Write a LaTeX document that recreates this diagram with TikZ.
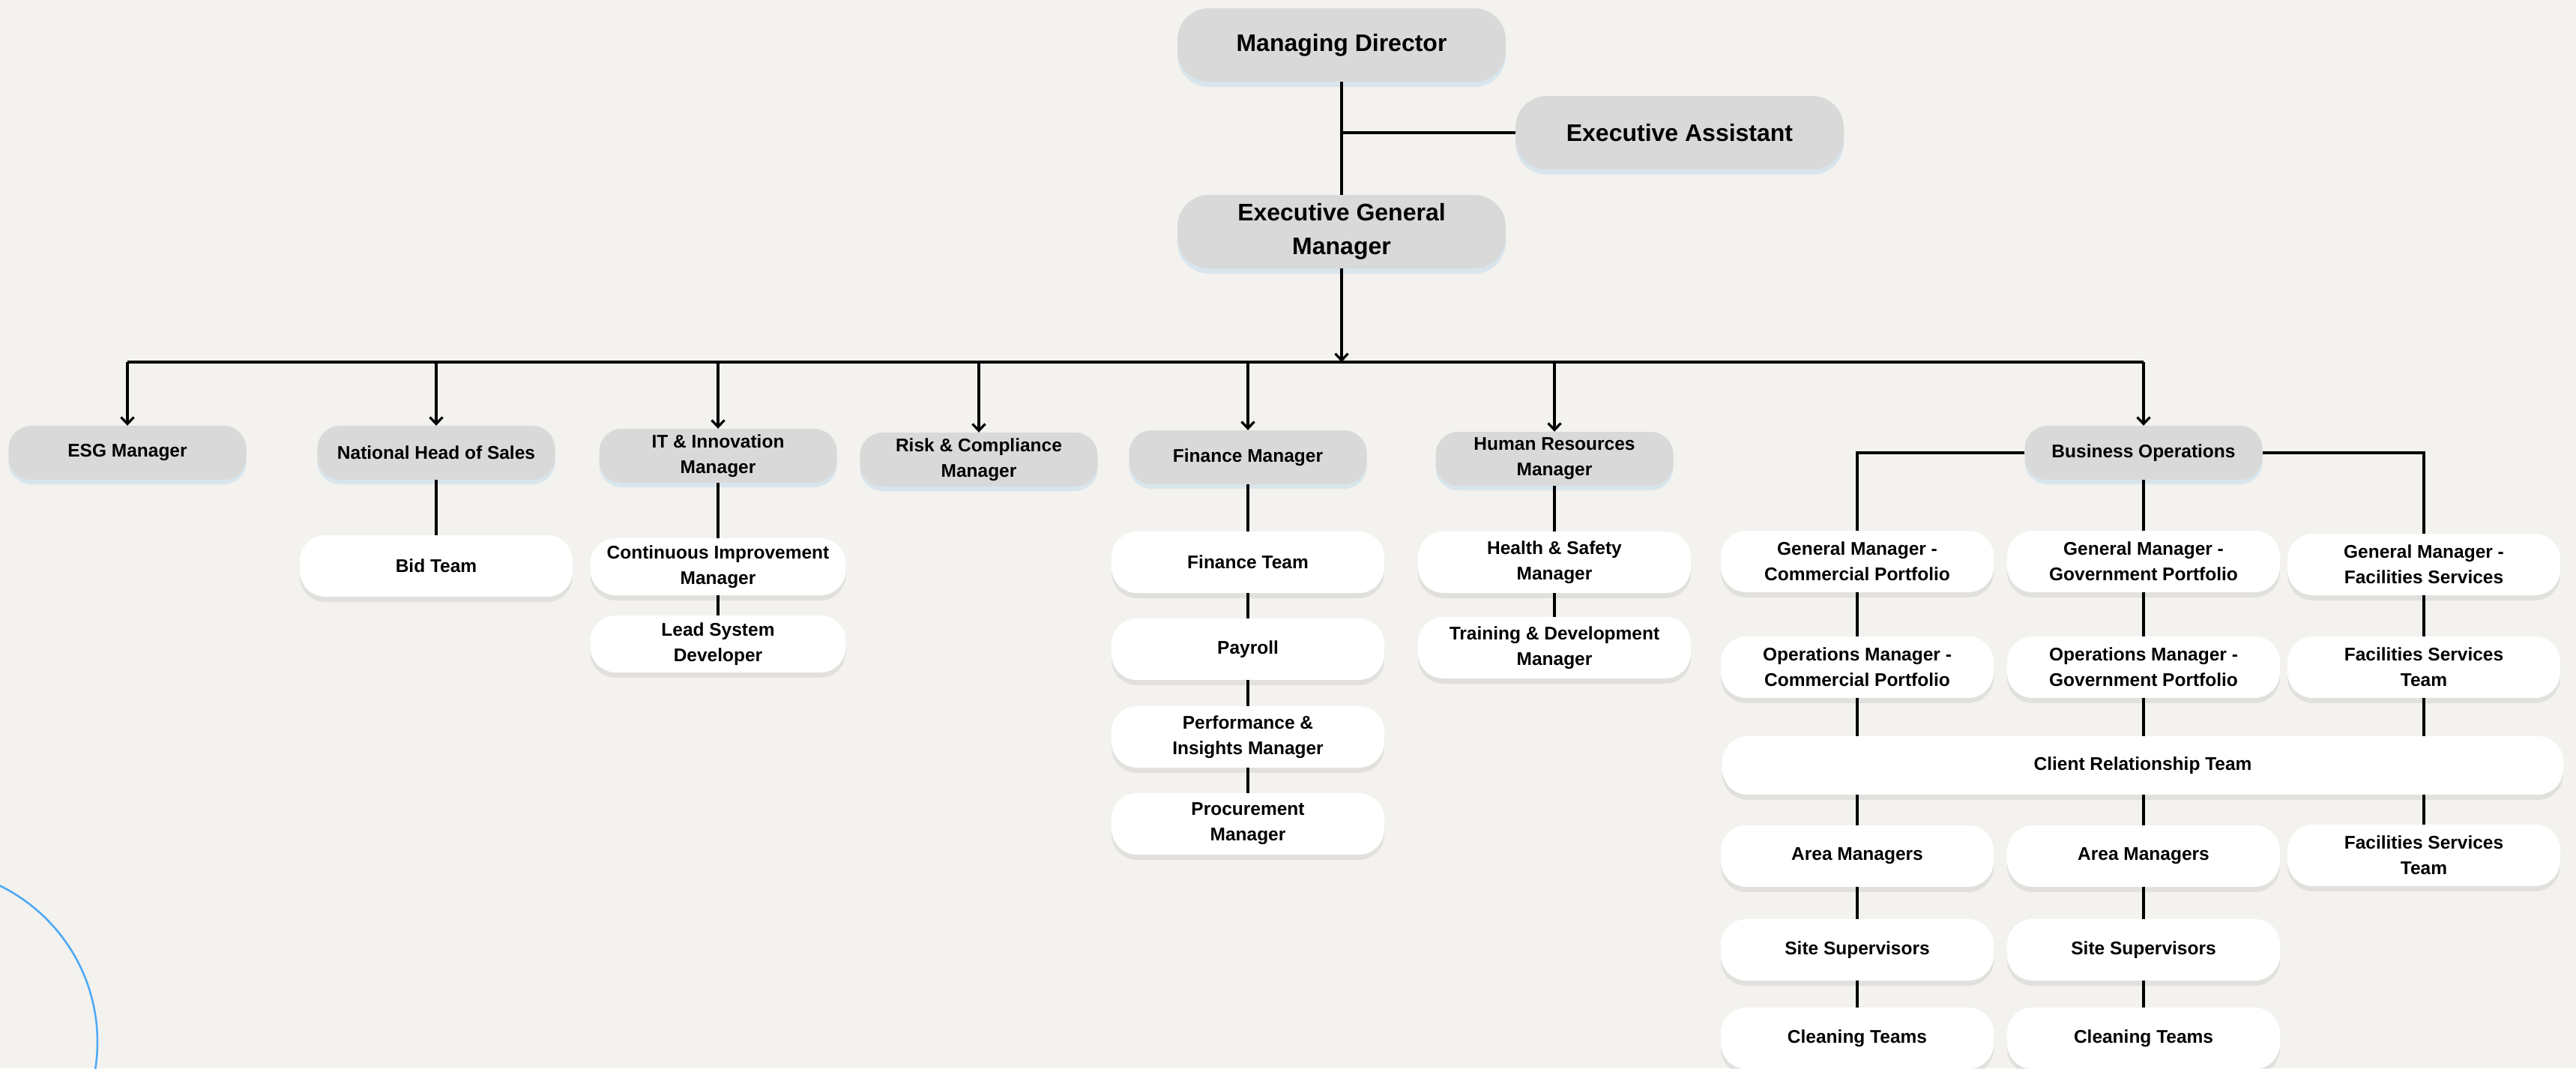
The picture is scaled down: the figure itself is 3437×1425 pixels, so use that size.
\documentclass[tikz,border=0pt]{standalone}
\usepackage{fontspec}
\setmainfont{Liberation Sans}
\usetikzlibrary{arrows.meta, shadows}
\usepackage{xcolor}

\definecolor{paper}{HTML}{F3F2EE}
\definecolor{boxgray}{HTML}{D9D9D9}
\definecolor{glow}{HTML}{C6DDEC}
\definecolor{arcblue}{HTML}{4AA8F7}

\tikzset{
  topbox/.style={fill=boxgray, rounded corners=42pt, minimum width=438pt, minimum height=98pt,
    inner sep=0pt, align=center, font=\fontsize{32pt}{45pt}\selectfont\bfseries,
    drop shadow={shadow xshift=0pt, shadow yshift=-7pt, fill=glow, opacity=.6}},
  mgrbox/.style={fill=boxgray, rounded corners=30pt, minimum width=317pt, minimum height=72pt,
    inner sep=0pt, align=center, font=\fontsize{24.5pt}{34pt}\selectfont\bfseries,
    drop shadow={shadow xshift=0pt, shadow yshift=-6pt, fill=glow, opacity=.6}},
  teambox/.style={fill=white, rounded corners=34pt, minimum width=364pt, minimum height=82pt,
    inner sep=0pt, align=center, font=\fontsize{24.5pt}{34pt}\selectfont\bfseries,
    drop shadow={shadow xshift=0pt, shadow yshift=-7pt, fill=black, opacity=.07}},
  link/.style={line width=3.2pt},
  feed/.style={link, -{Straight Barb[length=9pt, width=17pt]}}
}

\begin{document}
\begin{tikzpicture}[x=1pt, y=-1pt]
  \useasboundingbox (0,0) rectangle (3437,1425);
  \fill[paper] (0,0) rectangle (3437,1425);

  % corner arc
  \begin{scope}
    \clip (0,0) rectangle (3437,1425);
    \draw[arcblue, line width=2.5pt] (-102,1390) circle[radius=232pt];
  \end{scope}

  % top of the chart
  \node[topbox] (md) at (1790,60) {Managing Director};
  \node[topbox] (ea) at (2241,177) {Executive Assistant};
  \node[topbox] (egm) at (1790,309) {Executive General\\Manager};

  % managers
  \node[mgrbox] (esg) at (170,604) {ESG Manager};
  \node[mgrbox] (nhs) at (582,604) {National Head of Sales};
  \node[mgrbox] (itm) at (958,608) {IT \& Innovation\\Manager};
  \node[mgrbox] (risk) at (1306,613) {Risk \& Compliance\\Manager};
  \node[mgrbox] (fin) at (1665,610) {Finance Manager};
  \node[mgrbox] (hrm) at (2074,612) {Human Resources\\Manager};
  \node[mgrbox] (bo) at (2860,604) {Business Operations};

  % teams under the managers
  \node[teambox] (bid) at (582,755) {Bid Team};
  \node[teambox, minimum width=341pt, minimum height=76pt] (cim) at (958,756) {Continuous Improvement\\Manager};
  \node[teambox, minimum width=341pt, minimum height=76pt] (lsd) at (958,859) {Lead System\\Developer};
  \node[teambox] (fteam) at (1665,750) {Finance Team};
  \node[teambox] (pay) at (1665,866) {Payroll};
  \node[teambox] (pim) at (1665,983) {Performance \&\\Insights Manager};
  \node[teambox] (proc) at (1665,1099) {Procurement\\Manager};
  \node[teambox] (hs) at (2074,750) {Health \& Safety\\Manager};
  \node[teambox] (td) at (2074,864) {Training \& Development\\Manager};

  % business operations
  \node[teambox] (gmc) at (2478,749) {General Manager -\\Commercial Portfolio};
  \node[teambox] (gmg) at (2860,749) {General Manager -\\Government Portfolio};
  \node[teambox] (gmf) at (3234,753) {General Manager -\\Facilities Services};
  \node[teambox] (omc) at (2478,890) {Operations Manager -\\Commercial Portfolio};
  \node[teambox] (omg) at (2860,890) {Operations Manager -\\Government Portfolio};
  \node[teambox] (fst) at (3234,890) {Facilities Services\\Team};
  \node[teambox, minimum width=1122pt, minimum height=78pt] (crt) at (2859,1021) {Client Relationship Team};
  \node[teambox] (amc) at (2478,1142) {Area Managers};
  \node[teambox] (amg) at (2860,1142) {Area Managers};
  \node[teambox] (fst2) at (3234,1141) {Facilities Services\\Team};
  \node[teambox] (ssc) at (2478,1267) {Site Supervisors};
  \node[teambox] (ssg) at (2860,1267) {Site Supervisors};
  \node[teambox] (ctc) at (2478,1385) {Cleaning Teams};
  \node[teambox] (ctg) at (2860,1385) {Cleaning Teams};

  % connectors
  \coordinate (bus) at (1790,483);
  \draw[link] (md.south) -- (egm.north);
  \draw[link] (md.south |- ea.west) -- (ea.west);
  \draw[feed] (egm.south) -- (bus);
  \draw[link] (esg.north |- bus) -- (bo.north |- bus);
  \foreach \n in {esg,nhs,itm,risk,fin,hrm,bo}
    \draw[feed] (\n.north |- bus) -- (\n.north);

  \foreach \a/\b in {nhs/bid, itm/cim, cim/lsd, fin/fteam, fteam/pay, pay/pim, pim/proc,
      hrm/hs, hs/td, bo/gmg, gmc/omc, gmg/omg, gmf/fst, amc/ssc, ssc/ctc, amg/ssg, ssg/ctg}
    \draw[link] (\a.south) -- (\b.north);
  \draw[link] (bo.west) -| (gmc.north);
  \draw[link] (bo.east) -| (gmf.north);
  \foreach \a in {omc,omg,fst}
    \draw[link] (\a.south) -- (\a.south |- crt.north);
  \foreach \b in {amc,amg,fst2}
    \draw[link] (crt.south -| \b.north) -- (\b.north);
\end{tikzpicture}
\end{document}
